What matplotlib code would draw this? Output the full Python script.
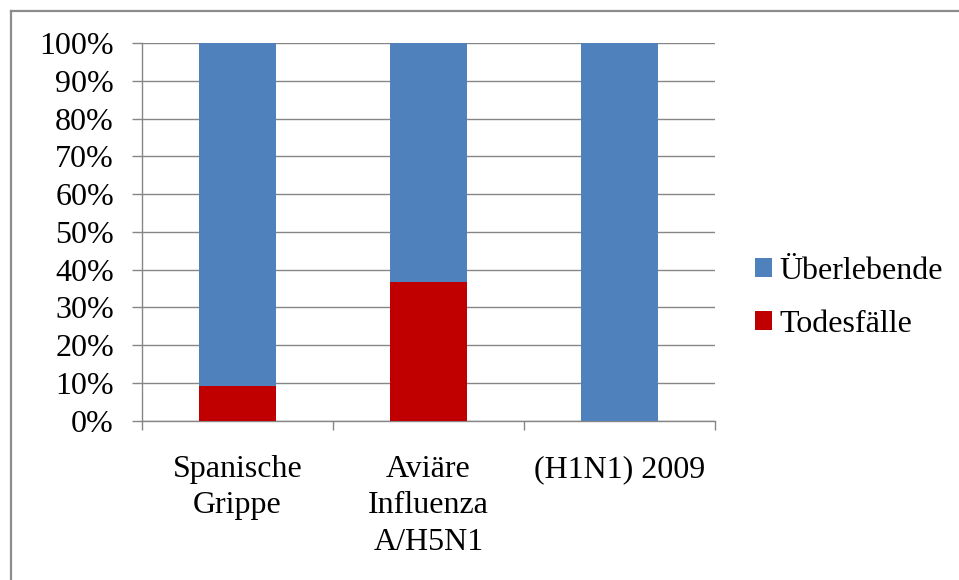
import numpy as np
import matplotlib.pyplot as plt
from matplotlib.lines import Line2D

# data
kategorien = ['Spanische\nGrippe', 'Aviäre\nInfluenza\nA/H5N1', '(H1N1) 2009']
todesfaelle = [9.1, 36.8, 0.02]
ueberlebende = [100 - t for t in todesfaelle]

blau = '#4F81BD'
rot = '#C00000'
grau = '#868686'

plt.rcParams['font.family'] = ['Liberation Serif', 'DejaVu Serif']

fig = plt.figure(figsize=(9.59, 5.80), dpi=100)
ax = fig.add_axes([142/959, 1 - 420.7/580, (715-142)/959, (420.7-43)/580])

x = np.arange(len(kategorien))
b1 = ax.bar(x, todesfaelle, width=0.4, color=rot, label='Todesfälle', zorder=3)
b2 = ax.bar(x, ueberlebende, width=0.4, bottom=todesfaelle, color=blau,
            label='Überlebende', zorder=3)

ax.set_xlim(-0.5, len(kategorien) - 0.5)
ax.set_ylim(0, 100)
ax.set_yticks(np.arange(0, 101, 10))
ax.set_yticklabels(['%d%%' % v for v in range(0, 101, 10)], fontsize=23)
ax.yaxis.grid(True, color=grau, linewidth=1.0, zorder=0)

ax.set_xticks(x)
ax.set_xticklabels(kategorien, fontsize=23, linespacing=1.32, va='top')
ax.set_xticks(np.arange(-0.5, len(kategorien)), minor=True)
ax.tick_params(axis='x', which='major', length=0, pad=25)
ax.tick_params(axis='x', which='minor', length=6.5, color=grau, width=1.0)
ax.tick_params(axis='y', length=7.2, color=grau, width=1.0, pad=13)

for s in ['top', 'right']:
    ax.spines[s].set_visible(False)
for s in ['left', 'bottom']:
    ax.spines[s].set_color(grau)
    ax.spines[s].set_linewidth(1.0)

ax.legend(handles=[b2, b1], loc='center left', bbox_to_anchor=(755/959, 1 - 298/580),
          bbox_transform=fig.transFigure, frameon=False, fontsize=23,
          handlelength=0.52, handleheight=0.52, handletextpad=0.25,
          labelspacing=0.75, borderpad=0, borderaxespad=0)

# Rahmen des Diagramms
fig.add_artist(Line2D([10.5/959, 10.5/959], [0, 1 - 11/580], color='#8C8C8C',
                      linewidth=1.6, transform=fig.transFigure))
fig.add_artist(Line2D([10.5/959, 1], [1 - 11/580, 1 - 11/580], color='#8C8C8C',
                      linewidth=1.6, transform=fig.transFigure))

plt.savefig('out.png', dpi=100)
